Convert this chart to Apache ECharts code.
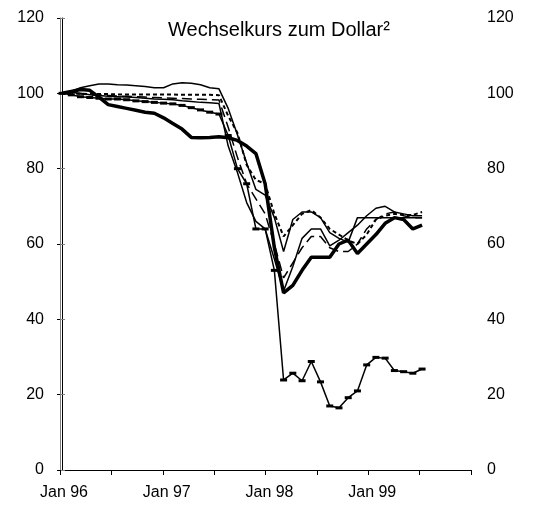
<!DOCTYPE html>
<html>
<head>
    <meta charset="UTF-8">
    <title>Wechselkurs zum Dollar</title>
    <script src="https://cdn.jsdelivr.net/npm/echarts@6/dist/echarts.min.js"></script>
    <style>
        body { margin: 0; background: #fff; }
        #main { width: 550px; height: 506px; }
    </style>
</head>
<body>
<div id="main"></div>
<script type="text/javascript">
    // monthly, Jan 96 .. Apr 99 (index 0..39)
    var months = ['Jan 96','Feb 96','Mar 96','Apr 96','May 96','Jun 96','Jul 96','Aug 96','Sep 96','Oct 96','Nov 96','Dec 96',
                  'Jan 97','Feb 97','Mar 97','Apr 97','May 97','Jun 97','Jul 97','Aug 97','Sep 97','Oct 97','Nov 97','Dec 97',
                  'Jan 98','Feb 98','Mar 98','Apr 98','May 98','Jun 98','Jul 98','Aug 98','Sep 98','Oct 98','Nov 98','Dec 98',
                  'Jan 99','Feb 99','Mar 99','Apr 99'];

    // thick solid
    var korea = [100, 100.5, 101, 100.8, 99, 97, 96.5, 96, 95.5, 95, 94.7, 93.5,
                 92, 90.5, 88.3, 88.2, 88.3, 88.5, 88.2, 87.5, 86, 84, 76, 59,
                 47, 49, 53, 56.5, 56.5, 56.5, 60, 61, 57.5, 60, 62.5, 65.5,
                 67, 66.5, 64, 65];
    // thin solid, top before the crisis, flat at the end
    var malaysia = [100, 100.5, 101.5, 102, 102.5, 102.5, 102.3, 102.2, 102, 101.8, 101.5, 101.5,
                    102.5, 102.8, 102.7, 102.3, 101.5, 101.2, 96, 89, 81.5, 74.5, 73, 67,
                    58, 66.5, 68.5, 68.5, 67, 63, 61.5, 60.5, 67, 67, 67, 67,
                    67, 67, 67, 67];
    // thin solid
    var thailand = [100, 100.2, 100, 99.6, 99.4, 99.2, 99.1, 99, 98.9, 98.7, 98.5, 98.4,
                    98.3, 98, 97.8, 97.6, 97.5, 97.3, 86, 79, 71, 66, 64, 56,
                    47.5, 54, 61.5, 64, 64, 59.5, 61, 63, 65, 67.5, 69.5, 70,
                    68.5, 68, 67.5, 67.5];
    // short dash
    var philippines = [100, 100, 99.9, 99.8, 99.8, 99.8, 99.7, 99.7, 99.7, 99.7, 99.7, 99.7,
                       99.7, 99.6, 99.6, 99.6, 99.6, 99.5, 94, 89.5, 81, 77, 76, 68,
                       62, 65, 68, 69, 67, 64, 62.5, 61, 60, 62.5, 66.5, 67.5,
                       68, 67.7, 67.7, 68.5];
    // long dash
    var other = [100, 100, 99.8, 99.6, 99.5, 99.4, 99.3, 99.2, 99.1, 99, 98.9, 98.8,
                 98.7, 98.6, 98.5, 98.4, 98.3, 98.2, 91, 83, 76, 72, 68, 60,
                 51, 55, 59, 62, 62, 59, 58, 58, 60, 64, 66.5, 68,
                 68.5, 67.5, 67, 67];
    // thin solid with markers
    var indonesia = [100, 99.6, 99.1, 98.9, 98.7, 98.5, 98.5, 98.3, 98, 97.8, 97.6, 97.4,
                     97.2, 96.8, 96.2, 95.6, 95, 94.5, 88.8, 80, 76, 64, 64, 53,
                     23.9, 25.7, 23.7, 28.8, 23.4, 17, 16.5, 19.2, 21, 27.9, 29.9, 29.7,
                     26.4, 26.1, 25.7, 26.8];

    var xTickLabels = ['Jan 96', '', 'Jan 97', '', 'Jan 98', '', 'Jan 99', '', ''];

    function pts(vals) {
        return vals.map(function (v, i) { return [i, v]; });
    }

    var myChart = echarts.init(document.getElementById('main'));
    var font = 'Arial, "Liberation Sans", sans-serif';

    var option = {
        animation: false,
        title: {
            text: 'Wechselkurs zum Dollar²',
            left: 163,
            top: 15,
            textStyle: { fontFamily: font, fontSize: 20, fontWeight: 'normal', color: '#000' }
        },
        grid: { left: 60, right: 79, top: 18, bottom: 36 },
        xAxis: [{
            type: 'value',
            show: false,
            min: -0.22,
            max: 44.3
        }, {
            type: 'value',
            position: 'bottom',
            min: 0,
            max: 8,
            interval: 1,
            axisLine: { lineStyle: { color: '#000', width: 1 } },
            axisTick: { length: 5, lineStyle: { color: '#000' } },
            axisLabel: {
                margin: 15,
                padding: [0, 0, 0, 8],
                color: '#000',
                fontFamily: font,
                fontSize: 16,
                formatter: function (v) { return xTickLabels[v]; }
            },
            splitLine: { show: false }
        }],
        yAxis: [{
            type: 'value',
            min: 0,
            max: 120,
            interval: 20,
            position: 'left',
            axisLine: { show: true, lineStyle: { color: '#000' } },
            axisTick: { show: true, length: 5, lineStyle: { color: '#000' } },
            axisLabel: { margin: 16, color: '#000', fontFamily: font, fontSize: 16 },
            splitLine: { show: false }
        }, {
            type: 'value',
            min: 0,
            max: 120,
            interval: 20,
            position: 'right',
            axisLine: { show: true, lineStyle: { color: '#808080' } },
            axisTick: { show: true, length: 5, lineStyle: { color: '#808080' } },
            axisLabel: { margin: 16, color: '#000', fontFamily: font, fontSize: 16 },
            splitLine: { show: false }
        }],
        series: [{
            name: 'Malaysia',
            type: 'line',
            data: pts(malaysia),
            showSymbol: false,
            lineStyle: { color: '#000', width: 1.5 }
        }, {
            name: 'Thailand',
            type: 'line',
            data: pts(thailand),
            showSymbol: false,
            lineStyle: { color: '#000', width: 1.5 }
        }, {
            name: 'other',
            type: 'line',
            data: pts(other),
            showSymbol: false,
            lineStyle: { color: '#000', width: 1.5, type: [10, 5] }
        }, {
            name: 'Philippinen',
            type: 'line',
            data: pts(philippines),
            showSymbol: false,
            lineStyle: { color: '#000', width: 2, type: [4, 3] }
        }, {
            name: 'Indonesien',
            type: 'line',
            data: pts(indonesia),
            symbol: 'rect',
            symbolSize: [7, 3],
            itemStyle: { color: '#000' },
            lineStyle: { color: '#000', width: 1.5 }
        }, {
            name: 'Korea',
            type: 'line',
            data: pts(korea),
            showSymbol: false,
            lineStyle: { color: '#000', width: 3.5 }
        }]
    };

    myChart.setOption(option);
</script>
</body>
</html>
